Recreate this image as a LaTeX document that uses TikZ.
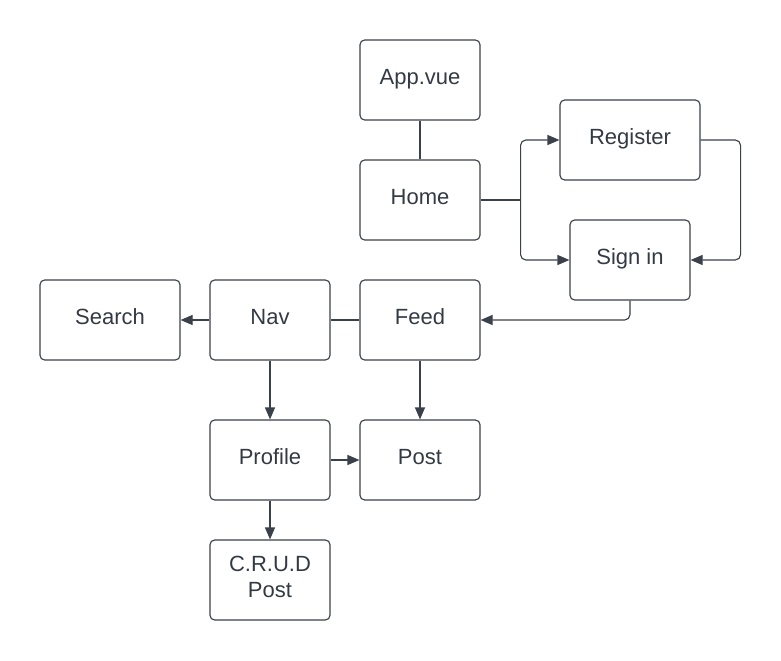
\documentclass[tikz,border=0pt]{standalone}
\usepackage{fontspec}
\setmainfont{Liberation Sans}
\usetikzlibrary{arrows.meta}
\definecolor{ln}{HTML}{3A414A}
\definecolor{tx}{HTML}{333A44}
\begin{document}
\begin{tikzpicture}[x=0.75pt,y=-0.75pt,
  box/.style={draw=ln,line width=0.85pt,rounded corners=3.5pt,minimum width=90pt,minimum height=60pt,
    text=tx,font=\fontsize{16.5pt}{19.5pt}\selectfont,align=center,inner sep=0pt,
    text height=12pt,text depth=5pt},
  twoline/.style={text height=31.5pt,text depth=6pt},
  wide/.style={minimum width=105pt},
  conn/.style={draw=ln,line width=0.85pt,rounded corners=4pt},
  arr/.style={conn,-{Triangle[length=9pt,width=7.5pt]}}]
\useasboundingbox (0,0) rectangle (781,660);
\node[box] (app) at (420,80) {App.vue};
\node[box] (home) at (420,200) {Home};
\node[box,wide] (reg) at (630,140) {Register};
\node[box] (sign) at (630,260) {Sign in};
\node[box,wide] (search) at (110,320) {Search};
\node[box] (nav) at (270,320) {Nav};
\node[box] (feed) at (420,320) {Feed};
\node[box] (profile) at (270,460) {Profile};
\node[box] (post) at (420,460) {Post};
\node[box,twoline] (crud) at (270,580) {C.R.U.D\\Post};
\coordinate (split) at ([xshift=30pt]home.east);
\draw[conn] (app) -- (home);
\draw[conn] (home.east) -- (split);
\draw[arr] (split) |- (reg.west);
\draw[arr] (split) |- (sign.west);
\draw[arr] (reg.east) -- ++(40,0) |- (sign.east);
\draw[arr] (sign.south) |- (feed.east);
\draw[conn] (feed) -- (nav);
\draw[arr] (nav) -- (search);
\draw[arr] (nav) -- (profile);
\draw[arr] (feed) -- (post);
\draw[arr] (profile) -- (post);
\draw[arr] (profile) -- (crud);
\end{tikzpicture}
\end{document}
